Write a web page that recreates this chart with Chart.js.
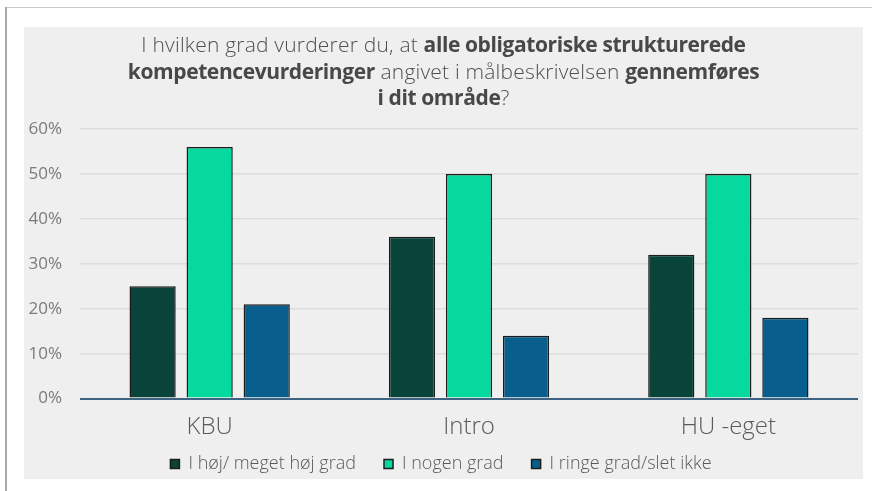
<!DOCTYPE html>
<html>
<head>
<meta charset="utf-8">
<script src="https://cdn.jsdelivr.net/npm/chart.js@4"></script>
<style>
  html, body { margin: 0; padding: 0; background: #fff; }
  body { width: 872px; height: 491px; position: relative; overflow: hidden; }
  #frameTop { position: absolute; left: 5px; top: 7px; width: 867px; height: 1px; background: #c8c8c8; }
  #frameLeft { position: absolute; left: 5px; top: 7px; width: 2px; height: 484px; background: #a9a9a9; }
  #panel { position: absolute; left: 24px; top: 27px; width: 839px; height: 452px; background: #efefef; }
  #title {
    position: absolute; left: 0; top: 4px; width: 100%;
    text-align: center; font-family: 'Open Sans', sans-serif; font-weight: 300;
    font-size: 21px; line-height: 26.5px; color: #505050; letter-spacing: 0.2px;
  }
  #title b { font-weight: 700; color: #484848; letter-spacing: -0.4px; }
  #chartWrap { position: absolute; left: 0; top: 0; width: 839px; height: 452px; }
</style>
</head>
<body>
<div id="frameTop"></div>
<div id="frameLeft"></div>
<div id="panel">
  <div id="chartWrap"><canvas id="grad-chart"></canvas></div>
  <div id="title">I hvilken grad vurderer du, at <b>alle obligatoriske strukturerede</b><br><b>kompetencevurderinger</b> angivet i målbeskrivelsen <b>gennemføres</b><br><b>i dit område</b>?</div>
</div>
<script>
// data
const categories = ['KBU', 'Intro', 'HU -eget'];
const hoejGrad = [25, 36, 32];
const nogenGrad = [56, 50, 50];
const ringeGrad = [21, 14, 18];
const yTicks = [0, 10, 20, 30, 40, 50, 60];

const font = "'Open Sans', sans-serif";

const data = {
  labels: categories,
  datasets: [
    {
      label: 'I høj/ meget høj grad',
      backgroundColor: '#08443a',
      data: hoejGrad,
    },
    {
      label: 'I nogen grad',
      backgroundColor: '#06d99e',
      data: nogenGrad,
    },
    {
      label: 'I ringe grad/slet ikke',
      backgroundColor: '#085f8e',
      data: ringeGrad,
    },
  ],
};

const options = {
  responsive: false,
  animation: false,
  maintainAspectRatio: false,
  layout: {
    padding: { top: 102, left: 0, right: 5, bottom: -4 },
  },
  datasets: {
    bar: {
      borderColor: '#1c1c1c',
      borderWidth: 1.5,
      categoryPercentage: 0.66,
      barPercentage: 0.81,
    },
  },
  plugins: {
    legend: {
      position: 'bottom',
      labels: {
        boxWidth: 9,
        boxHeight: 9,
        padding: 0,
        color: '#5a5a5a',
        font: { family: font, size: 18, weight: 300, lineHeight: 1 },
        // no vertical padding, so widen the gap between items with spaces
        generateLabels: (chart) => {
          const items = Chart.defaults.plugins.legend.labels.generateLabels(chart);
          items.forEach((item, i) => {
            if (i < items.length - 1) item.text += '\u00a0'.repeat(6);
          });
          return items;
        },
      },
    },
    title: { display: false },
    tooltip: { enabled: false },
  },
  scales: {
    y: {
      min: 0,
      max: 60,
      afterBuildTicks: (axis) => {
        axis.ticks = yTicks.map((v) => ({ value: v }));
      },
      afterFit: (axis) => {
        axis.width = 56;
      },
      ticks: {
        padding: 18,
        color: '#7a7a7a',
        font: { family: font, size: 17 },
        callback: (v) => v + '%',
      },
      border: { display: false },
      grid: {
        drawTicks: false,
        color: (ctx) => (ctx.tick && ctx.tick.value === 0 ? '#3d6382' : '#dcdcdc'),
        lineWidth: (ctx) => (ctx.tick && ctx.tick.value === 0 ? 2 : 1.5),
      },
    },
    x: {
      ticks: {
        padding: 15,
        color: '#5a5a5a',
        font: { family: font, size: 24, weight: 300, lineHeight: 1.1 },
      },
      border: { display: false },
      grid: { display: false, drawTicks: false },
    },
  },
};

const canvas = document.getElementById('grad-chart');
canvas.width = 839;
canvas.height = 452;
new Chart(canvas, {
  type: 'bar',
  options: options,
  data: data,
});
</script>
</body>
</html>
